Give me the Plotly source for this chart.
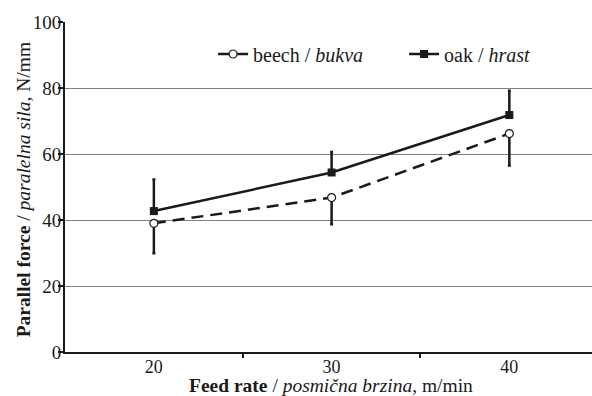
import plotly.graph_objects as go

feed_rate = [20, 30, 40]
beech_mean = [39.0, 46.8, 66.2]
beech_sd = [9.1, 8.1, 9.7]
oak_mean = [42.7, 54.4, 71.8]
oak_sd = [9.6, 6.2, 7.4]
y_ticks = [0, 20, 40, 60, 80, 100]

FONT = "Liberation Serif, Times New Roman, serif"
INK = "#1a1a1a"

fig = go.Figure()
fig.add_trace(go.Scatter(
    x=feed_rate, y=beech_mean, mode="lines+markers",
    name="beech / <i>bukva</i>",
    line=dict(color=INK, width=2.5, dash="12px,7px"),
    marker=dict(symbol="circle", size=8, color="white", line=dict(color=INK, width=1.2)),
    error_y=dict(type="data", symmetric=False, array=[0, 0, 0], arrayminus=beech_sd,
                 color=INK, thickness=2.5, width=1.5),
))
fig.add_trace(go.Scatter(
    x=feed_rate, y=oak_mean, mode="lines+markers",
    name="oak / <i>hrast</i>",
    line=dict(color=INK, width=2.5),
    marker=dict(symbol="square", size=8, color=INK),
    error_y=dict(type="data", symmetric=False, array=oak_sd, arrayminus=[0, 0, 0],
                 color=INK, thickness=2.5, width=1.5),
))

fig.update_layout(
    width=592, height=396,
    margin=dict(l=65, r=0, t=22, b=44, autoexpand=False),
    paper_bgcolor="white", plot_bgcolor="white",
    font=dict(family=FONT, size=19, color=INK),
    showlegend=True,
    legend=dict(
        orientation="h", x=0.281, xanchor="left", y=0.903, yanchor="middle",
        bgcolor="rgba(0,0,0,0)", font=dict(family=FONT, size=20, color=INK),
        entrywidth=146, entrywidthmode="pixels", itemwidth=30,
    ),
    xaxis=dict(
        range=[15, 44.65], tickvals=feed_rate, ticktext=[str(v) for v in feed_rate],
        ticks="", showgrid=False, zeroline=False, automargin=False,
        showline=True, linecolor=INK, linewidth=2, ticklabelstandoff=-3,
        minor=dict(tickvals=[25, 35], ticks="outside", ticklen=4, tickcolor=INK, tickwidth=1.5, showgrid=False),
        tickfont=dict(family=FONT, size=18, color=INK),
    ),
    yaxis=dict(
        range=[0, 100], tickvals=y_ticks, ticks="outside", ticklen=5,
        tickcolor=INK, tickwidth=1.5, automargin=False, ticklabelstandoff=-7,
        showgrid=True, gridcolor="#808080", gridwidth=1.3, zeroline=False,
        showline=True, linecolor=INK, linewidth=2,
        tickfont=dict(family=FONT, size=19, color=INK),
    ),
    annotations=[
        dict(
            text="<b>Parallel force</b> / <i>paralelna sila</i>, N/mm",
            xref="paper", yref="paper", x=(23 - 65) / 527, y=0.49,
            xanchor="center", yanchor="middle", textangle=-90, showarrow=False,
            font=dict(family=FONT, size=19.5, color=INK),
        ),
        dict(
            text="<b>Feed rate</b> / <i>posmična brzina</i>, m/min",
            xref="paper", yref="paper", x=(331 - 65) / 527, y=(352 - 385) / 330,
            xanchor="center", yanchor="middle", showarrow=False,
            font=dict(family=FONT, size=19.5, color=INK),
        ),
    ],
)

fig.write_html("out.html", config={"displayModeBar": False},
               post_script="document.body.style.margin='0';document.body.style.overflow='hidden';")
